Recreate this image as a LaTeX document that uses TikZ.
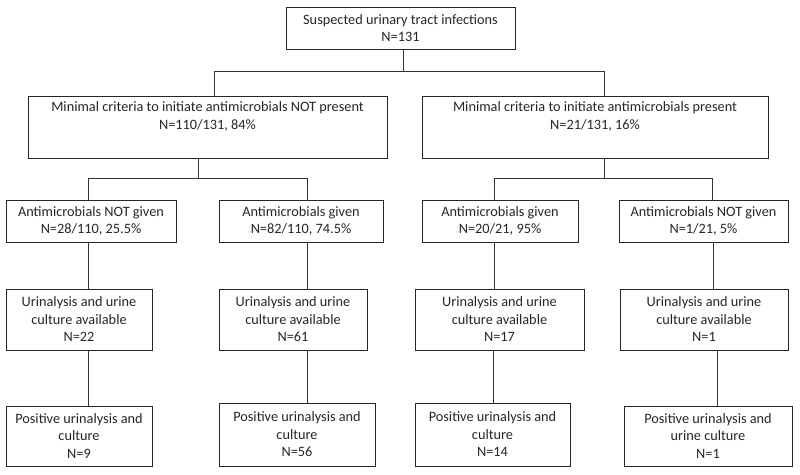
\documentclass[tikz,border=0pt]{standalone}
\usepackage{fontspec}
\setmainfont{Carlito}
\begin{document}
\begin{tikzpicture}[x=1pt,y=-1pt,
  box/.style={draw=black!85,line width=0.9pt,inner sep=0pt,align=center,
    text=black!85,font=\fontsize{14.3}{17.5}\selectfont},
  link/.style={draw=black!80,line width=0.9pt}]
\useasboundingbox (0,0) rectangle (800,474);
% level 1
\node[box,minimum width=229,minimum height=42] (top) at (400.5,28) {Suspected urinary tract infections\\N=131};
% level 2
\node[box,minimum width=359,minimum height=62] (L2a) at (207.5,127) {Minimal criteria to initiate antimicrobials NOT present\\N=110/131, 84\%\\\strut};
\node[box,minimum width=346,minimum height=62] (L2b) at (595,127) {Minimal criteria to initiate antimicrobials present\\N=21/131, 16\%\\\strut};
% level 3
\node[box,minimum width=170,minimum height=42] (L3a) at (91,221) {Antimicrobials NOT given\\N=28/110, 25.5\%};
\node[box,minimum width=164,minimum height=42] (L3b) at (301,221) {Antimicrobials given\\N=82/110, 74.5\%};
\node[box,minimum width=156,minimum height=42] (L3c) at (500,221) {Antimicrobials given\\N=20/21, 95\%};
\node[box,minimum width=169,minimum height=42] (L3d) at (703.5,221) {Antimicrobials NOT given\\N=1/21, 5\%};
% level 4
\node[box,minimum width=146,minimum height=61] (L4a) at (79,319.5) {Urinalysis and urine\\culture available\\N=22};
\node[box,minimum width=148,minimum height=61] (L4b) at (293,319.5) {Urinalysis and urine\\culture available\\N=61};
\node[box,minimum width=169,minimum height=61] (L4c) at (499.5,319.5) {Urinalysis and urine\\culture available\\N=17};
\node[box,minimum width=168,minimum height=61] (L4d) at (704,319.5) {Urinalysis and urine\\culture available\\N=1};
% level 5
\node[box,minimum width=146,minimum height=60] (L5a) at (79,436) {Positive urinalysis and\\culture\\N=9};
\node[box,minimum width=156,minimum height=63] (L5b) at (297,434.5) {Positive urinalysis and\\culture\\N=56};
\node[box,minimum width=155,minimum height=63] (L5c) at (492.5,434.5) {Positive urinalysis and\\culture\\N=14};
\node[box,minimum width=168,minimum height=60] (L5d) at (708,436) {Positive urinalysis and\\urine culture\\N=1};
% connectors level 1 -> 2
\draw[link] ([xshift=2.5pt]top.south) -- ++(0,22) coordinate (j1);
\draw[link] ([xshift=6.5pt]L2a.north) |- (j1) -| ([xshift=9pt]L2b.north);
% level 2 -> 3
\draw[link] ([xshift=-9.5pt]L2a.south) -- ++(0,20) coordinate (j2);
\draw[link] ([xshift=-3pt]L3a.north) |- (j2) -| ([xshift=6pt]L3b.north);
\draw[link] ([xshift=9pt]L2b.south) -- ++(0,20) coordinate (j3);
\draw[link] ([xshift=-6pt]L3c.north) |- (j3) -| ([xshift=8.5pt]L3d.north);
% level 3 -> 4
\draw[link] ([xshift=-3pt]L3a.south) -- ([xshift=-3pt]L3a.south |- L4a.north);
\draw[link] ([xshift=6pt]L3b.south) -- ([xshift=6pt]L3b.south |- L4b.north);
\draw[link] ([xshift=-6pt]L3c.south) -- ([xshift=-6pt]L3c.south |- L4c.north);
\draw[link] ([xshift=10pt]L3d.south) -- ([xshift=10pt]L3d.south |- L4d.north);
% level 4 -> 5
\draw[link] ([xshift=9pt]L4a.south) -- ([xshift=9pt]L4a.south |- L5a.north);
\draw[link] ([xshift=14pt]L4b.south) -- ([xshift=14pt]L4b.south |- L5b.north);
\draw[link] ([xshift=-6.5pt]L4c.south) -- ([xshift=-6.5pt]L4c.south |- L5c.north);
\draw[link] ([xshift=13pt]L4d.south) -- ([xshift=13pt]L4d.south |- L5d.north);
\end{tikzpicture}
\end{document}
